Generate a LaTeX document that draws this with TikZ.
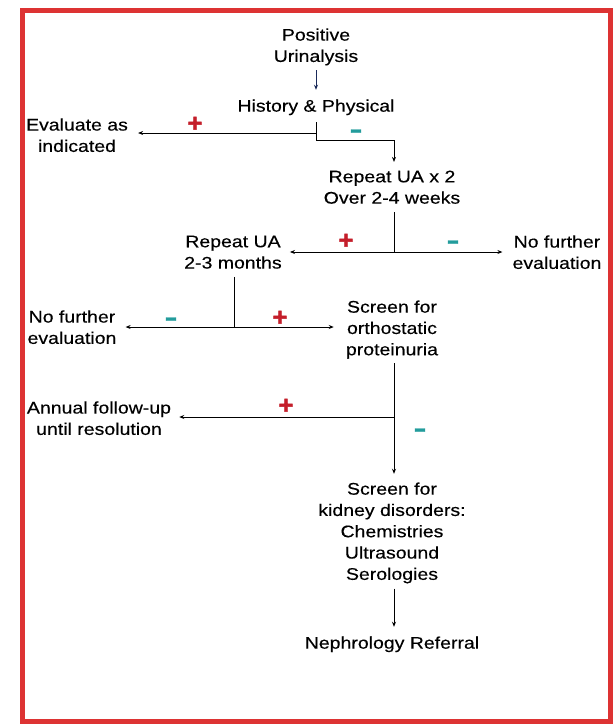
\documentclass[tikz,border=0pt]{standalone}
\usepackage{fontspec}
\setmainfont{Liberation Sans}[FakeStretch=1.16,FakeBold=0.3]
\newfontfamily\plusfont{Liberation Sans}[FakeBold=2]
\newfontfamily\minusfont{Liberation Sans}[FakeBold=1.2,FakeStretch=1.5]
\usetikzlibrary{arrows.meta,calc}
\definecolor{framered}{HTML}{DD3333}
\definecolor{plusred}{HTML}{C41E2A}
\definecolor{minusteal}{HTML}{239C9C}
\definecolor{navyline}{HTML}{1A2A5A}
\begin{document}
\begin{tikzpicture}[x=1pt,y=-1pt,
  txt/.style={align=center,inner sep=0pt,font=\fontsize{16.8}{21.3}\selectfont},
  arr/.style={-{Stealth[length=5pt,width=4pt]},line width=0.8pt},
  ln/.style={line width=0.8pt},
  plussign/.style={inner sep=0pt,text=plusred,font=\plusfont\bfseries\fontsize{25}{25}\selectfont},
  minussign/.style={inner sep=0pt,text=minusteal,font=\minusfont\bfseries\fontsize{26}{26}\selectfont}]
\useasboundingbox (0,0) rectangle (615,724);
\draw[framered,line width=5pt] (22,10) rectangle (610.5,721.5);
% text nodes
\node[txt] (pos) at (316,46.9) {Positive\\Urinalysis};
\node[txt] (hp) at (316,107.3) {History \& Physical};
\node[txt] (eval) at (77,135.2) {Evaluate as\\indicated};
\node[txt] (rep) at (392,187.2) {Repeat UA x 2\\Over 2-4 weeks};
\node[txt] (rep2) at (233,252.2) {Repeat UA\\2-3 months};
\node[txt] (nf1) at (557,252.2) {No further\\evaluation};
\node[txt] (nf2) at (72,327.2) {No further\\evaluation};
\node[txt] (orth) at (392,329.6) {Screen for\\orthostatic\\proteinuria};
\node[txt] (annual) at (99,418.2) {Annual follow-up\\until resolution};
\node[txt] (kid) at (392,532.9) {Screen for\\kidney disorders:\\Chemistries\\Ultrasound\\Serologies};
\node[txt] (neph) at (392,644.3) {Nephrology Referral};
% junctions
\coordinate (j1) at (316,133);
\coordinate (j2) at (316,140);
\coordinate (j3) at (394,252);
\coordinate (j4) at (234,327);
\coordinate (j5) at (394,417);
% connectors
\draw[arr,draw=navyline] ($(pos.south)+(0,4.7)$) -- ($(hp.north)+(0,-9.5)$);
\draw[ln] ($(hp.south)+(0,7)$) -- (j2);
\draw[arr] (j1) -- ($(eval.east |- j1)+(10,0)$);
\draw[arr] (j2) -| ($(rep.north)+(2,-8.5)$);
\draw[ln] ($(rep.south)+(2,8)$) -- (j3);
\draw[arr] (j3) -- ($(rep2.east |- j3)+(8,0)$);
\draw[arr] (j3) -- ($(nf1.west |- j3)+(-10,0)$);
\draw[ln] ($(rep2.south)+(1,8)$) -- (j4);
\draw[arr] (j4) -- ($(nf2.east |- j4)+(9,0)$);
\draw[arr] (j4) -- ($(orth.west |- j4)+(-12,0)$);
\draw[arr] ($(orth.south)+(2,4.4)$) -- ($(kid.north)+(2,-8.5)$);
\draw[arr] (j5) -- ($(annual.east |- j5)+(8,0)$);
\draw[arr] ($(kid.south)+(2,5)$) -- ($(neph.north)+(2,-9.5)$);
% signs
\node[plussign] (p1) at (195,124.3) {+};
\node[minussign] (m1) at (356,133.7) {-};
\node[plussign] (p2) at (346,241.3) {+};
\node[minussign] (m2) at (453,244.7) {-};
\node[minussign] (m3) at (171,321.7) {-};
\node[plussign] (p3) at (280,318.3) {+};
\node[plussign] (p4) at (286,406.3) {+};
\node[minussign] (m4) at (420,432.7) {-};
\end{tikzpicture}
\end{document}
